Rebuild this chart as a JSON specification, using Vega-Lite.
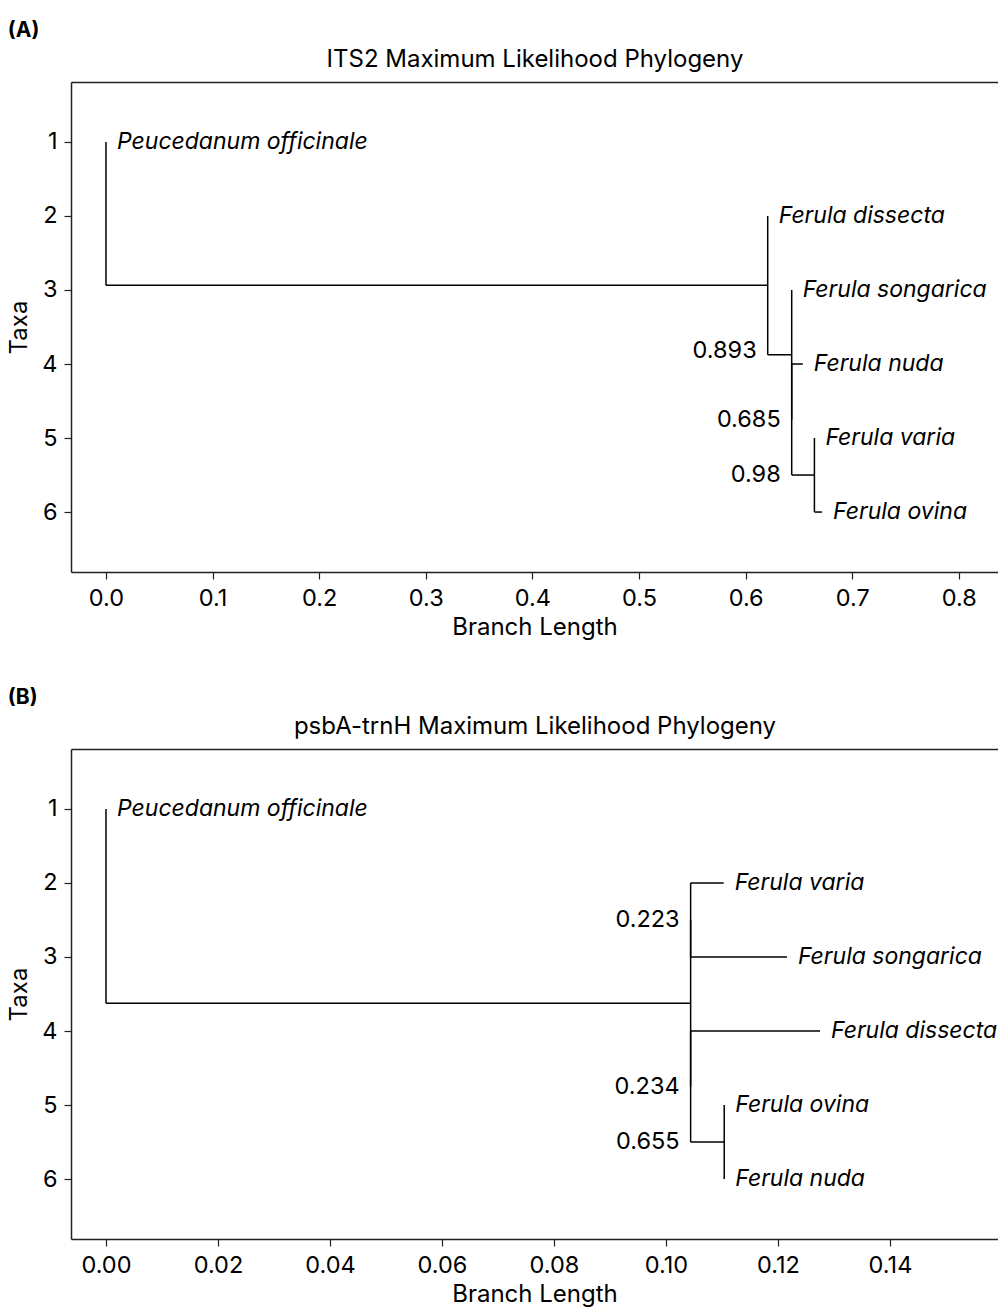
{
  "$schema": "https://vega.github.io/schema/vega-lite/v6.json",
  "padding": {"left": 7, "top": 20, "right": 0, "bottom": 0},
  "spacing": 47,
  "config": {
    "font": "Inter",
    "view": {"stroke": null},
    "axis": {
      "grid": false,
      "domainColor": "#222222",
      "domainWidth": 1.5,
      "tickColor": "#222222",
      "tickWidth": 1.2,
      "tickSize": 7,
      "labelColor": "#000000",
      "titleColor": "#000000",
      "labelFontSize": 23.5,
      "titleFontSize": 24,
      "titleFontWeight": "normal",
      "labelPadding": 7
    },
    "text": {"color": "#000000"}
  },
  "vconcat": [
    {
      "title": {"text": "(A)", "anchor": "start", "frame": "bounds", "fontSize": 21, "fontWeight": "bold", "offset": 6},
      "width": 927,
      "height": 490,
      "layer": [
        {
          "data": {"values": [
            {"x": 0, "x2": 0, "y": 1, "y2": 2.9375},
            {"x": 0, "x2": 0.6207, "y": 2.9375, "y2": 2.9375},
            {"x": 0.6207, "x2": 0.6207, "y": 2, "y2": 3.875},
            {"x": 0.6207, "x2": 0.6432, "y": 3.875, "y2": 3.875},
            {"x": 0.6432, "x2": 0.6432, "y": 3, "y2": 4.75},
            {"x": 0.6432, "x2": 0.6432, "y": 4, "y2": 5.5},
            {"x": 0.6432, "x2": 0.6536, "y": 4, "y2": 4},
            {"x": 0.6432, "x2": 0.6645, "y": 5.5, "y2": 5.5},
            {"x": 0.6645, "x2": 0.6645, "y": 5, "y2": 6},
            {"x": 0.6645, "x2": 0.6717, "y": 6, "y2": 6}
          ]},
          "mark": {"type": "rule", "color": "#000000", "strokeWidth": 1.5},
          "encoding": {
            "x": {"field": "x", "type": "quantitative", "scale": {"domain": [-0.0328, 0.8367], "nice": false, "zero": false},
                  "axis": {"orient": "bottom", "values": [0, 0.1, 0.2, 0.3, 0.4, 0.5, 0.6, 0.7, 0.8], "format": ".1f", "title": "Branch Length", "titlePadding": 6}},
            "x2": {"field": "x2"},
            "y": {"field": "y", "type": "quantitative", "scale": {"domain": [0.19, 6.81], "reverse": true, "nice": false, "zero": false},
                  "axis": {"values": [1, 2, 3, 4, 5, 6], "format": "d", "title": "Taxa", "titlePadding": 10}},
            "y2": {"field": "y2"}
          }
        },
        {
          "data": {"values": [
            {"x": 0, "y": 1, "name": "Peucedanum officinale"},
            {"x": 0.6207, "y": 2, "name": "Ferula dissecta"},
            {"x": 0.6432, "y": 3, "name": "Ferula songarica"},
            {"x": 0.6536, "y": 4, "name": "Ferula nuda"},
            {"x": 0.6645, "y": 5, "name": "Ferula varia"},
            {"x": 0.6717, "y": 6, "name": "Ferula ovina"}
          ]},
          "mark": {"type": "text", "align": "left", "baseline": "middle", "dx": 11, "fontSize": 23, "fontStyle": "italic"},
          "encoding": {
            "x": {"field": "x", "type": "quantitative",
                  "axis": {"orient": "top", "title": "ITS2 Maximum Likelihood Phylogeny", "labels": false, "ticks": false, "domain": true, "titlePadding": 11}},
            "y": {"field": "y", "type": "quantitative", "axis": null},
            "text": {"field": "name"}
          }
        },
        {
          "data": {"values": [
            {"x": 0.6207, "y": 3.82, "label": "0.893"},
            {"x": 0.6432, "y": 4.75, "label": "0.685"},
            {"x": 0.6432, "y": 5.5, "label": "0.98"}
          ]},
          "mark": {"type": "text", "align": "right", "baseline": "middle", "dx": -11, "fontSize": 23.5},
          "encoding": {
            "x": {"field": "x", "type": "quantitative", "axis": null},
            "y": {"field": "y", "type": "quantitative", "axis": null},
            "text": {"field": "label"}
          }
        }
      ],
      "resolve": {"axis": {"x": "independent", "y": "independent"}}
    },
    {
      "title": {"text": "(B)", "anchor": "start", "frame": "bounds", "fontSize": 21, "fontWeight": "bold", "offset": 6},
      "width": 927,
      "height": 490,
      "layer": [
        {
          "data": {"values": [
            {"x": 0, "x2": 0, "y": 1, "y2": 3.625},
            {"x": 0, "x2": 0.1044, "y": 3.625, "y2": 3.625},
            {"x": 0.1044, "x2": 0.1044, "y": 2.5, "y2": 4.75},
            {"x": 0.1044, "x2": 0.1044, "y": 2, "y2": 3},
            {"x": 0.1044, "x2": 0.1103, "y": 2, "y2": 2},
            {"x": 0.1044, "x2": 0.1216, "y": 3, "y2": 3},
            {"x": 0.1044, "x2": 0.1044, "y": 4, "y2": 5.5},
            {"x": 0.1044, "x2": 0.1275, "y": 4, "y2": 4},
            {"x": 0.1044, "x2": 0.1104, "y": 5.5, "y2": 5.5},
            {"x": 0.1104, "x2": 0.1104, "y": 5, "y2": 6}
          ]},
          "mark": {"type": "rule", "color": "#000000", "strokeWidth": 1.5},
          "encoding": {
            "x": {"field": "x", "type": "quantitative", "scale": {"domain": [-0.00625, 0.15929], "nice": false, "zero": false},
                  "axis": {"orient": "bottom", "values": [0, 0.02, 0.04, 0.06, 0.08, 0.1, 0.12, 0.14], "format": ".2f", "title": "Branch Length", "titlePadding": 6}},
            "x2": {"field": "x2"},
            "y": {"field": "y", "type": "quantitative", "scale": {"domain": [0.19, 6.81], "reverse": true, "nice": false, "zero": false},
                  "axis": {"values": [1, 2, 3, 4, 5, 6], "format": "d", "title": "Taxa", "titlePadding": 10}},
            "y2": {"field": "y2"}
          }
        },
        {
          "data": {"values": [
            {"x": 0, "y": 1, "name": "Peucedanum officinale"},
            {"x": 0.1103, "y": 2, "name": "Ferula varia"},
            {"x": 0.1216, "y": 3, "name": "Ferula songarica"},
            {"x": 0.1275, "y": 4, "name": "Ferula dissecta"},
            {"x": 0.1104, "y": 5, "name": "Ferula ovina"},
            {"x": 0.1104, "y": 6, "name": "Ferula nuda"}
          ]},
          "mark": {"type": "text", "align": "left", "baseline": "middle", "dx": 11, "fontSize": 23, "fontStyle": "italic"},
          "encoding": {
            "x": {"field": "x", "type": "quantitative",
                  "axis": {"orient": "top", "title": "psbA-trnH Maximum Likelihood Phylogeny", "labels": false, "ticks": false, "domain": true, "titlePadding": 11}},
            "y": {"field": "y", "type": "quantitative", "axis": null},
            "text": {"field": "name"}
          }
        },
        {
          "data": {"values": [
            {"x": 0.1044, "y": 2.5, "label": "0.223"},
            {"x": 0.1044, "y": 4.75, "label": "0.234"},
            {"x": 0.1044, "y": 5.5, "label": "0.655"}
          ]},
          "mark": {"type": "text", "align": "right", "baseline": "middle", "dx": -11, "fontSize": 23.5},
          "encoding": {
            "x": {"field": "x", "type": "quantitative", "axis": null},
            "y": {"field": "y", "type": "quantitative", "axis": null},
            "text": {"field": "label"}
          }
        }
      ],
      "resolve": {"axis": {"x": "independent", "y": "independent"}}
    }
  ]
}
